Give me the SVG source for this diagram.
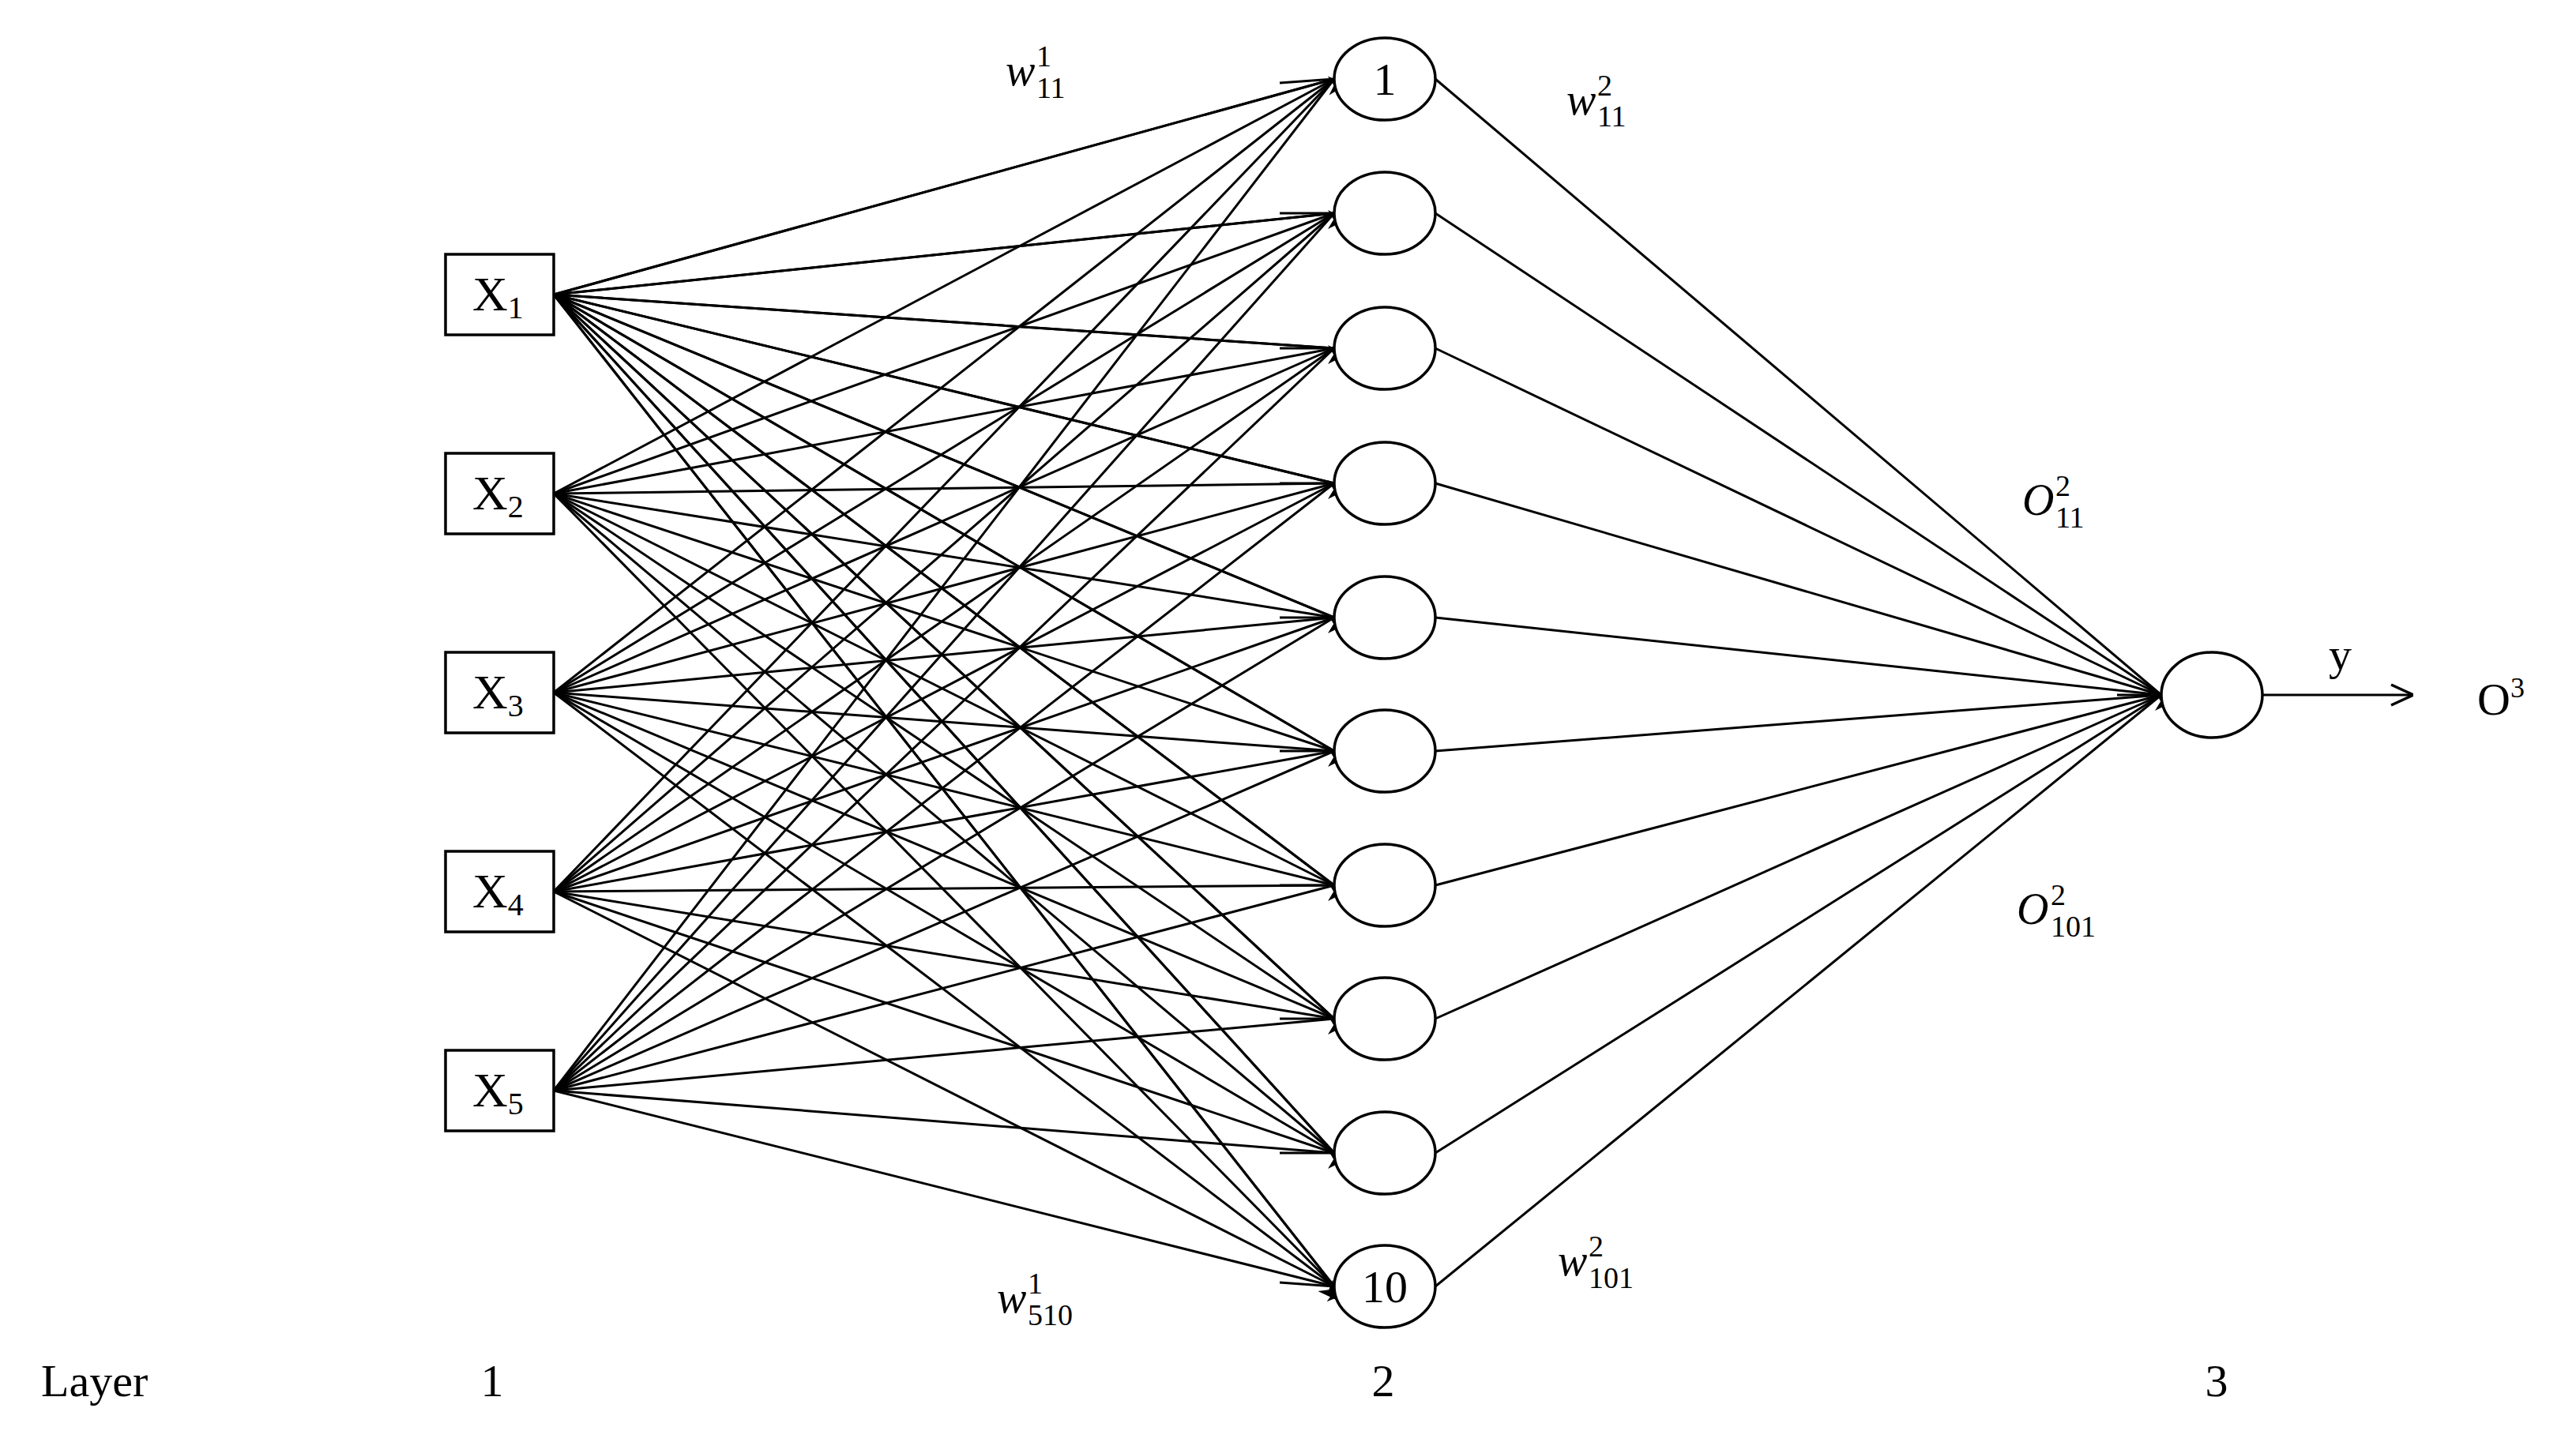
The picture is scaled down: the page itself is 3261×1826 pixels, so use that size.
<svg xmlns="http://www.w3.org/2000/svg" width="3261" height="1826" viewBox="0 0 3261 1826">
<style>
.n{fill:#fff;stroke:#000;stroke-width:3.5}
.e line{stroke:#000;stroke-width:3}
.t{font-family:"Liberation Serif",serif;fill:#000}
.m{font-family:"Liberation Serif",serif;font-style:italic;fill:#000}
</style>
<defs>
<marker id="a" viewBox="0 0 10 10" refX="10" refY="5" markerWidth="8" markerHeight="8" markerUnits="userSpaceOnUse" orient="auto" style="overflow:visible">
<path d="M0,0 L10,5 L0,10 L3,5 Z" fill="#000" transform="scale(3)" />
</marker>
<marker id="o" viewBox="0 0 30 30" refX="30" refY="15" markerWidth="30" markerHeight="30" markerUnits="userSpaceOnUse" orient="auto">
<path d="M2,2 L30,15 L2,28" fill="none" stroke="#000" stroke-width="3.5"/>
</marker>
</defs>
<rect width="3261" height="1826" fill="#fff"/>
<g id="connectors" class="e">
<g id="l1">
</g>
</g>
<g id="edges" stroke="#000" stroke-width="3" marker-end="url(#a)">
<path d="M701,373L1689,100M701,373L1689,270M701,373L1689,441M701,373L1689,612M701,373L1689,782M701,373L1689,951M701,373L1689,1121M701,373L1689,1290M701,373L1689,1460M701,373L1689,1629" marker-end="url(#a)"/>
</g>
<g id="edges-all" stroke="#000" stroke-width="3" fill="none">
<path d="M701,373L1689,100"/><path d="M701,373L1689,270"/><path d="M701,373L1689,441"/><path d="M701,373L1689,612"/><path d="M701,373L1689,782"/><path d="M701,373L1689,951"/><path d="M701,373L1689,1121"/><path d="M701,373L1689,1290"/><path d="M701,373L1689,1460"/><path d="M701,373L1689,1629"/>
<path d="M701,625L1689,100"/><path d="M701,625L1689,270"/><path d="M701,625L1689,441"/><path d="M701,625L1689,612"/><path d="M701,625L1689,782"/><path d="M701,625L1689,951"/><path d="M701,625L1689,1121"/><path d="M701,625L1689,1290"/><path d="M701,625L1689,1460"/><path d="M701,625L1689,1629"/>
<path d="M701,877L1689,100"/><path d="M701,877L1689,270"/><path d="M701,877L1689,441"/><path d="M701,877L1689,612"/><path d="M701,877L1689,782"/><path d="M701,877L1689,951"/><path d="M701,877L1689,1121"/><path d="M701,877L1689,1290"/><path d="M701,877L1689,1460"/><path d="M701,877L1689,1629"/>
<path d="M701,1129L1689,100"/><path d="M701,1129L1689,270"/><path d="M701,1129L1689,441"/><path d="M701,1129L1689,612"/><path d="M701,1129L1689,782"/><path d="M701,1129L1689,951"/><path d="M701,1129L1689,1121"/><path d="M701,1129L1689,1290"/><path d="M701,1129L1689,1460"/><path d="M701,1129L1689,1629"/>
<path d="M701,1381L1689,100"/><path d="M701,1381L1689,270"/><path d="M701,1381L1689,441"/><path d="M701,1381L1689,612"/><path d="M701,1381L1689,782"/><path d="M701,1381L1689,951"/><path d="M701,1381L1689,1121"/><path d="M701,1381L1689,1290"/><path d="M701,1381L1689,1460"/><path d="M701,1381L1689,1629"/>
</g>
<g id="edges-arrows" stroke="#000" stroke-width="3" fill="none">
<path d="M1620,105L1689,100" marker-end="url(#a)"/>
<path d="M1620,270L1689,270" marker-end="url(#a)"/>
<path d="M1620,441L1689,441" marker-end="url(#a)"/>
<path d="M1620,612L1689,612" marker-end="url(#a)"/>
<path d="M1620,782L1689,782" marker-end="url(#a)"/>
<path d="M1620,951L1689,951" marker-end="url(#a)"/>
<path d="M1620,1121L1689,1121" marker-end="url(#a)"/>
<path d="M1620,1290L1689,1290" marker-end="url(#a)"/>
<path d="M1620,1460L1689,1460" marker-end="url(#a)"/>
<path d="M1620,1624L1689,1629" marker-end="url(#a)"/>
<path d="M1817,100L2736,880"/><path d="M1817,270L2736,880"/><path d="M1817,441L2736,880"/><path d="M1817,612L2736,880"/><path d="M1817,782L2736,880"/><path d="M1817,951L2736,880"/><path d="M1817,1121L2736,880"/><path d="M1817,1290L2736,880"/><path d="M1817,1460L2736,880"/><path d="M1817,1629L2736,880"/>
<path d="M2680,880L2736,880" marker-end="url(#a)"/>
<path d="M2864,880L3055,880" marker-end="url(#o)"/>
</g>
<g id="x1"><rect class="n" x="564" y="322" width="137" height="102"/><text class="t" x="598" y="393" font-size="62">X<tspan font-size="40" dy="10">1</tspan></text></g>
<g id="x2"><rect class="n" x="564" y="574" width="137" height="102"/><text class="t" x="598" y="645" font-size="62">X<tspan font-size="40" dy="10">2</tspan></text></g>
<g id="x3"><rect class="n" x="564" y="826" width="137" height="102"/><text class="t" x="598" y="897" font-size="62">X<tspan font-size="40" dy="10">3</tspan></text></g>
<g id="x4"><rect class="n" x="564" y="1078" width="137" height="102"/><text class="t" x="598" y="1149" font-size="62">X<tspan font-size="40" dy="10">4</tspan></text></g>
<g id="x5"><rect class="n" x="564" y="1330" width="137" height="102"/><text class="t" x="598" y="1401" font-size="62">X<tspan font-size="40" dy="10">5</tspan></text></g>
<g id="h1"><ellipse class="n" cx="1753" cy="100" rx="64" ry="52"/><text class="t" x="1753" y="120" font-size="58" text-anchor="middle">1</text></g>
<g id="h2"><ellipse class="n" cx="1753" cy="270" rx="64" ry="52"/></g>
<g id="h3"><ellipse class="n" cx="1753" cy="441" rx="64" ry="52"/></g>
<g id="h4"><ellipse class="n" cx="1753" cy="612" rx="64" ry="52"/></g>
<g id="h5"><ellipse class="n" cx="1753" cy="782" rx="64" ry="52"/></g>
<g id="h6"><ellipse class="n" cx="1753" cy="951" rx="64" ry="52"/></g>
<g id="h7"><ellipse class="n" cx="1753" cy="1121" rx="64" ry="52"/></g>
<g id="h8"><ellipse class="n" cx="1753" cy="1290" rx="64" ry="52"/></g>
<g id="h9"><ellipse class="n" cx="1753" cy="1460" rx="64" ry="52"/></g>
<g id="h10"><ellipse class="n" cx="1753" cy="1629" rx="64" ry="52"/><text class="t" x="1753" y="1649" font-size="58" text-anchor="middle">10</text></g>
<g id="out"><ellipse class="n" cx="2800" cy="880" rx="64" ry="54"/></g>
<g id="labels">
<text class="m" x="1273" y="108" font-size="56">w</text><text class="t" x="1312" y="84" font-size="38">1</text><text class="t" x="1312" y="124" font-size="38">11</text>
<text class="m" x="1983" y="145" font-size="56">w</text><text class="t" x="2022" y="121" font-size="38">2</text><text class="t" x="2022" y="160" font-size="38">11</text>
<text class="m" x="2560" y="652" font-size="56">O</text><text class="t" x="2602" y="628" font-size="38">2</text><text class="t" x="2602" y="668" font-size="38">11</text>
<text class="m" x="2553" y="1170" font-size="56">O</text><text class="t" x="2596" y="1146" font-size="38">2</text><text class="t" x="2596" y="1186" font-size="38">101</text>
<text class="m" x="1262" y="1662" font-size="56">w</text><text class="t" x="1301" y="1638" font-size="38">1</text><text class="t" x="1301" y="1678" font-size="38">510</text>
<text class="m" x="1972" y="1615" font-size="56">w</text><text class="t" x="2011" y="1591" font-size="38">2</text><text class="t" x="2011" y="1631" font-size="38">101</text>
<text class="t" x="2948" y="848" font-size="58">y</text>
<text class="t" x="3136" y="905" font-size="58">O<tspan font-size="36" dy="-22">3</tspan></text>
<text class="t" x="52" y="1768" font-size="58">Layer</text>
<text class="t" x="623" y="1768" font-size="58" text-anchor="middle">1</text>
<text class="t" x="1751" y="1768" font-size="58" text-anchor="middle">2</text>
<text class="t" x="2806" y="1768" font-size="58" text-anchor="middle">3</text>
</g>
</svg>
